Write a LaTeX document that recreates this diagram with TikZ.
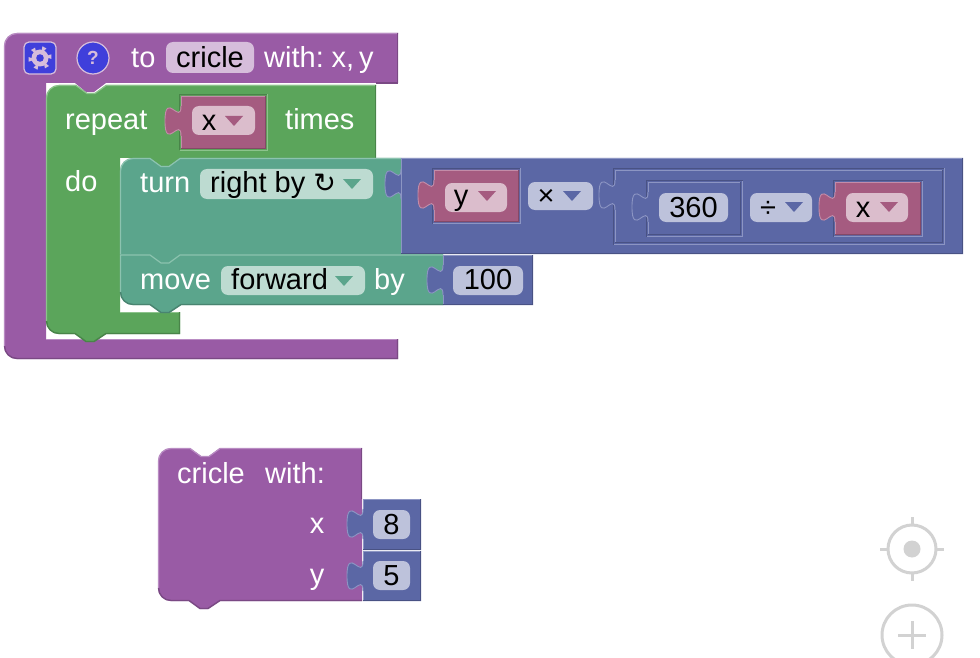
\documentclass[tikz,border=0pt]{standalone}
\usepackage{fontspec}
\setmainfont{Liberation Sans}
\newfontfamily\symfont{DejaVu Sans}
\definecolor{proc}{HTML}{995BA5}\definecolor{procL}{HTML}{B98CC3}\definecolor{procD}{HTML}{7A4984}\definecolor{procF}{HTML}{D6BDDB}
\definecolor{rpt}{HTML}{5BA55B}\definecolor{rptL}{HTML}{8CC38C}\definecolor{rptD}{HTML}{498449}
\definecolor{mot}{HTML}{5BA58C}\definecolor{motL}{HTML}{8CC3AF}\definecolor{motD}{HTML}{498470}\definecolor{motF}{HTML}{BDDBD1}
\definecolor{mth}{HTML}{5B67A5}\definecolor{mthL}{HTML}{8C95C3}\definecolor{mthD}{HTML}{495284}\definecolor{mthF}{HTML}{BDC2DB}
\definecolor{vari}{HTML}{A55B80}\definecolor{variL}{HTML}{C38CA8}\definecolor{variD}{HTML}{844966}\definecolor{variF}{HTML}{DBBDCC}
\definecolor{iconblue}{HTML}{3F3FDB}\definecolor{ghost}{HTML}{D2D2D2}
% puzzle tab on a left edge whose block top is at #2
\def\tabat#1#2{-- (#1,#2+10) .. controls (#1,#2+30) and (#1-16,#2-6) .. (#1-16,#2+25) .. controls (#1-16,#2+56) and (#1,#2+20) .. (#1,#2+40)}
% notch left-to-right around centre #1 at height #2
\def\notchr#1#2{-- (#1-15,#2) -- (#1-4,#2+8) -- (#1+4,#2+8) -- (#1+15,#2)}
\newcommand{\valblk}[5]{%
  \fill[#1] (#2,#3) \tabat{#2}{#3} -- (#2,#5) -- (#4,#5) -- (#4,#3) -- cycle;
  \draw[#1L,line width=1pt] (#2+.5,#5) -- (#2+.5,#3+40);
  \draw[#1L,line width=.9pt] (#2,#3+10) .. controls (#2,#3+30) and (#2-16,#3-6) .. (#2-16,#3+25) .. controls (#2-16,#3+56) and (#2,#3+20) .. (#2,#3+40);
  \draw[#1L,line width=1pt] (#2+.5,#3+10) -- (#2+.5,#3+.5) -- (#4,#3+.5);
  \draw[#1D,line width=1.4pt] (#2,#5-.5) -- (#4-.5,#5-.5) -- (#4-.5,#3);
}
\newcommand{\sockt}[5]{%
  \draw[#1D,line width=1.2pt] (#2-1.5,#5+1.5) -- (#2-1.5,#3-1.5) -- (#4+1.5,#3-1.5);
  \draw[#1L,line width=1.2pt] (#2-1.5,#5+1.5) -- (#4+1.5,#5+1.5) -- (#4+1.5,#3-1.5);
}
\newcommand{\fld}[5]{\fill[#1,rounded corners=7pt] (#2,#3) rectangle (#4,#5);}
\newcommand{\drop}[3]{\fill[#1] (#2-9,#3-5) -- (#2+9,#3-5) -- (#2,#3+5) -- cycle;}
\tikzset{
  lab/.style={text=white,font=\fontsize{29}{29}\selectfont,inner sep=0pt,anchor=base west},
  val/.style={text=black,font=\fontsize{29}{29}\selectfont,inner sep=0pt,anchor=base},
  vall/.style={val,anchor=base west},
}
\begin{document}
\begin{tikzpicture}[x=1pt,y=-1pt]
\useasboundingbox (0,0) rectangle (980,658);
\clip (0,0) rectangle (980,658);
\fill[white] (0,0) rectangle (980,658);

% procedure definition
\fill[proc] (4,46) .. controls (4,39) and (10,33) .. (17,33) -- (398,33) -- (398,83) -- (106,83) -- (94,92) -- (86,92) -- (75,83) -- (46,83) -- (46,339) -- (398,339) -- (398,359) -- (17,359) .. controls (10,359) and (4,353) .. (4,346) -- cycle;
\draw[procL,line width=1.2pt] (4.5,346) -- (4.5,46) .. controls (4.5,39) and (10,33.5) .. (17,33.5) -- (398,33.5);
\draw[procD,line width=1.4pt] (397.5,33) -- (397.5,83) -- (376,83);
\draw[procL,line width=1.2pt] (46,339.5) -- (398,339.5);
\draw[procD,line width=1.4pt] (397.5,339) -- (397.5,358.5) -- (17,358.5) .. controls (10,358.5) and (4.5,353) .. (4.5,346);
\fill[iconblue,draw=procF,line width=1.2pt,rounded corners=5pt] (24,42) rectangle (56,74);
\fill[procF] (40,58) circle[radius=8.5];
\foreach \a in {0,60,...,300}{\fill[procF] (40,58) ++(\a-18:7) -- ++(\a-18:5) -- ++(\a+90:4.6) -- ++(\a+198:5) -- cycle;}
\fill[iconblue] (40,58) circle[radius=3.8];
\fill[iconblue,draw=procF,line width=1.2pt] (93,58) circle[radius=16];
\node[inner sep=0pt,anchor=base,text=procF,font=\fontsize{19}{19}\selectfont\bfseries] (qm) at (93,65) {?};
\node[lab] (to) at (131,68) {to};
\fld{procF}{166}{42}{254}{73}
\node[val] (name) at (210,68) {cricle};
\node[lab] (withxy) at (264,68) {\spaceskip=5pt with: x, y};

% repeat
\fill[rpt] (46,98) .. controls (46,91) and (52,85) .. (59,85) \notchr{91}{85} -- (376,85) -- (376,158) -- (181,158) -- (169,167) -- (161,167) -- (150,158) -- (120,158) -- (120,312) -- (180,312) -- (180,334) -- (106,334) -- (94,342) -- (86,342) -- (75,334) -- (59,334) .. controls (52,334) and (46,328) .. (46,321) -- cycle;
\draw[rptL,line width=1.2pt] (46.5,321) -- (46.5,98) .. controls (46.5,91) and (52,85.5) .. (59,85.5) \notchr{91}{85.5} -- (376,85.5);
\draw[rptD,line width=1.4pt] (375.5,85) -- (375.5,158);
\draw[rptL,line width=1.2pt] (120,312.5) -- (180,312.5);
\draw[rptD,line width=1.4pt] (179.5,312) -- (179.5,333.5) -- (106,333.5) -- (94,341.5) -- (86,341.5) -- (75,333.5) -- (59,333.5) .. controls (52,333.5) and (46.5,328) .. (46.5,321);
\node[lab] (repeat) at (65,130) {repeat};
\sockt{rpt}{181}{96}{266}{149}
\valblk{vari}{181}{96}{266}{149}
\fld{variF}{192}{106}{255}{135}
\node[val] (vx1) at (209,131) {x};
\drop{vari}{234}{121}
\node[lab] (times) at (285,130) {times};
\node[lab] (do) at (65,191) {do};

% turn
\fill[mot] (120,171) .. controls (120,164) and (126,158) .. (133,158) \notchr{165}{158} -- (401,158) -- (401,254) -- (120,254) -- cycle;
\draw[motL,line width=1.2pt] (120.5,254) -- (120.5,171) .. controls (120.5,164) and (126,158.5) .. (133,158.5) \notchr{165}{158.5} -- (401,158.5);
\node[lab] (turn) at (140,193) {turn};
\fld{motF}{200}{169}{373}{199}
\node[vall] (rightby) at (210,193) {right by \raisebox{0pt}{\symfont\fontsize{27}{27}\selectfont ↻}};
\drop{mot}{352}{184}

% math block
\fill[mth] (401,158) \tabat{401}{159} -- (401,254) -- (963,254) -- (963,158) -- cycle;
\draw[mthL,line width=.9pt] (401,169) .. controls (401,189) and (385,153) .. (385,184) .. controls (385,215) and (401,179) .. (401,199);
\draw[mthL,line width=1.2pt] (401.5,254) -- (401.5,158.5) -- (963,158.5);
\draw[mthD,line width=1.4pt] (401,253.5) -- (962.5,253.5) -- (962.5,158);
\sockt{mth}{434}{170}{519}{222}
\valblk{vari}{434}{170}{519}{222}
\fld{variF}{445}{183}{507}{212}
\node[val] (vy) at (461,205) {y};
\drop{vari}{487}{196}
\fld{mthF}{528}{182}{593}{210}
\node[val] (times2) at (546,205) {×};
\drop{mth}{572}{196}
\sockt{mth}{615}{170}{943}{243}
\valblk{mth}{615}{170}{943}{243}
\sockt{mth}{648}{182}{741}{235}
\valblk{mth}{648}{182}{741}{235}
\fld{mthF}{659}{193}{728}{222}
\node[val] (n360) at (693.5,217) {360};
\fld{mthF}{750}{193}{812}{222}
\node[val] (div) at (768,217) {÷};
\drop{mth}{794}{207}
\sockt{mth}{835}{182}{921}{235}
\valblk{vari}{835}{182}{921}{235}
\fld{variF}{846}{193}{908}{222}
\node[val] (vx2) at (863,217) {x};
\drop{vari}{889}{207}

% move
\fill[mot] (120,254) -- (443,254) -- (443,305) -- (181,305) -- (169,313) -- (161,313) -- (150,305) -- (133,305) .. controls (126,305) and (120,299) .. (120,292) -- cycle;
\draw[motL,line width=1.2pt] (120.5,292) -- (120.5,255) -- (150,255) -- (161,263) -- (169,263) -- (180,255) -- (443,255);
\draw[motD,line width=1.4pt] (443,304.5) -- (181,304.5) -- (169,312.5) -- (161,312.5) -- (150,304.5) -- (133,304.5) .. controls (126,304.5) and (120.5,299) .. (120.5,292);
\node[lab] (move) at (140,289) {move};
\fld{motF}{221}{266}{365}{295}
\node[vall] (forward) at (231,289) {forward};
\drop{mot}{344}{281}
\node[lab] (by) at (374,289) {by};
\valblk{mth}{443}{255}{533}{305}
\fld{mthF}{453}{266}{523}{295}
\node[val] (n100) at (488,289) {100};

% call block
\fill[proc] (158,461) .. controls (158,454) and (164,448) .. (171,448) \notchr{205}{448} -- (362,448) -- (362,601) -- (220,601) -- (208,609) -- (200,609) -- (189,601) -- (171,601) .. controls (164,601) and (158,595) .. (158,588) -- cycle;
\draw[procL,line width=1.2pt] (158.5,588) -- (158.5,461) .. controls (158.5,454) and (164,448.5) .. (171,448.5) \notchr{205}{448.5} -- (362,448.5);
\draw[procD,line width=1.4pt] (361.5,448) -- (361.5,499);
\draw[procD,line width=1.4pt] (362,600.5) -- (220,600.5) -- (208,608.5) -- (200,608.5) -- (189,600.5) -- (171,600.5) .. controls (164,600.5) and (158.5,595) .. (158.5,588);
\node[lab] (cricle2) at (177,483) {cricle};
\node[lab] (with2) at (265,483) {with:};
\node[val,text=white] (px) at (317,533) {x};
\node[val,text=white] (py) at (317,584) {y};
\valblk{mth}{363}{499}{421}{550}
\fld{mthF}{373}{510}{410}{539}
\node[val] (n8) at (391.5,534) {8};
\valblk{mth}{363}{551}{421}{601}
\fld{mthF}{373}{561}{410}{590}
\node[val] (n5) at (391.5,585) {5};

% controls
\draw[ghost,line width=3pt] (912,549) circle[radius=24];
\fill[ghost] (912,549) circle[radius=8.5];
\draw[ghost,line width=3pt] (912,517) -- (912,525) (912,573) -- (912,581) (880,549) -- (888,549) (936,549) -- (944,549);
\draw[ghost,line width=3pt] (912,635) circle[radius=30];
\draw[ghost,line width=3pt] (912,621) -- (912,649) (898,635) -- (926,635);
\end{tikzpicture}
\end{document}
